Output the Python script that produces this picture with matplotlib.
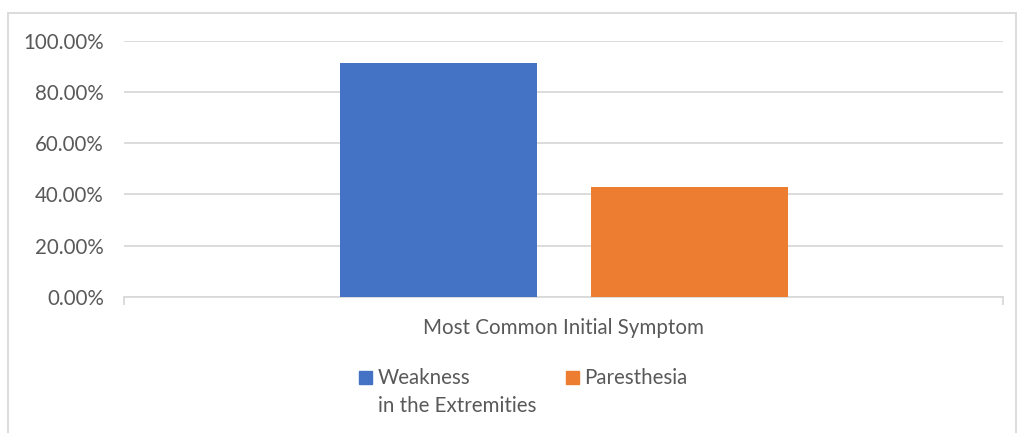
import matplotlib
matplotlib.use("Agg")
import matplotlib.pyplot as plt
from matplotlib.lines import Line2D
from matplotlib.patches import Rectangle
from matplotlib.ticker import FuncFormatter

# Data
category = "Most Common Initial Symptom"
series_names = [["Weakness", "in the Extremities"], ["Paresthesia"]]
series_values = [91.3, 42.9]
series_colors = ["#4472C4", "#ED7D31"]
y_ticks = [0, 20, 40, 60, 80, 100]

plt.rcParams["font.family"] = ["Lato", "DejaVu Sans"]
text_color = "#595959"
grid_color = "#D9D9D9"
fs = 14.8

W, H = 1017, 433
fig = plt.figure(figsize=(W / 100, H / 100), dpi=100)

def fx(px):
    return px / W

def fy(py):
    return 1 - py / H

ax = fig.add_axes([fx(124), fy(296.7), fx(1003) - fx(124), fy(40.7) - fy(296.7)])

offsets = [-0.142, 0.143]
bar_width = 0.224
for off, val, col in zip(offsets, series_values, series_colors):
    ax.bar(off, val, width=bar_width, color=col, zorder=3)

ax.set_xlim(-0.5, 0.5)
ax.set_ylim(0, 100)
ax.set_yticks(y_ticks)
ax.yaxis.set_major_formatter(FuncFormatter(lambda v, p: f"{v:.2f}%"))
ax.yaxis.grid(True, color=grid_color, linewidth=1.3, zorder=0)
ax.tick_params(axis="y", length=0, pad=14.5, labelsize=fs, labelcolor=text_color)

ax.set_xticks([-0.5, 0.5])
ax.set_xticklabels(["", ""])
ax.set_xticks([0], minor=True)
ax.set_xticklabels([category], minor=True)
ax.tick_params(axis="x", which="major", length=6, color=grid_color, width=1.3)
ax.tick_params(axis="x", which="minor", length=0, pad=15, labelsize=fs,
               labelcolor=text_color)

for s in ["top", "right", "left"]:
    ax.spines[s].set_visible(False)
ax.spines["bottom"].set_color(grid_color)
ax.spines["bottom"].set_linewidth(1.3)

# Legend: colour square beside the first line of each entry
legend_items = [(359, 378, series_names[0], series_colors[0]),
                (566, 584, series_names[1], series_colors[1])]
line_step = 28
for sq_x, tx, lines, col in legend_items:
    fig.patches.append(Rectangle((fx(sq_x), fy(384)), fx(13), 13 / H,
                                 transform=fig.transFigure, color=col))
    for i, line in enumerate(lines):
        fig.text(fx(tx), fy(384 + i * line_step), line, fontsize=fs,
                 color=text_color, ha="left", va="baseline")

# Chart frame
frame_kw = dict(color=grid_color, linewidth=1.3, transform=fig.transFigure)
fig.lines.append(Line2D([fx(8), fx(8)], [0, fy(13)], **frame_kw))
fig.lines.append(Line2D([fx(8), fx(1016)], [fy(13), fy(13)], **frame_kw))
fig.lines.append(Line2D([fx(1016), fx(1016)], [fy(13), 0], **frame_kw))

fig.savefig("out.png", dpi=100)
